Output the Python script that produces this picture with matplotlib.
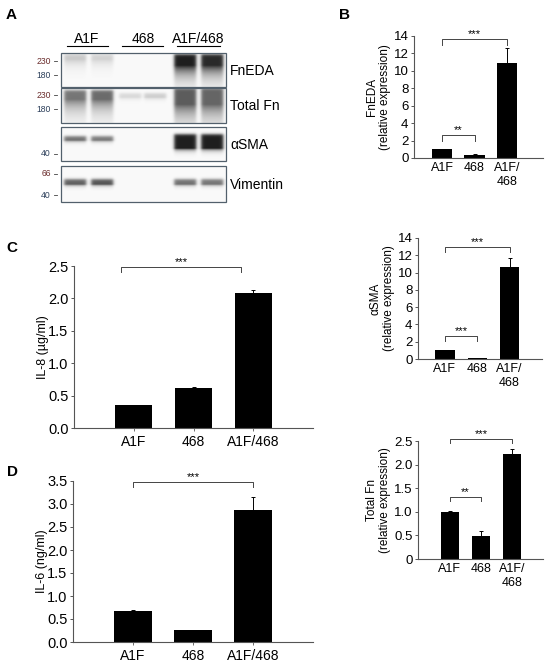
import numpy as np
import matplotlib.pyplot as plt
from matplotlib.patches import Rectangle

plt.rcParams['font.family'] = ['Liberation Sans', 'DejaVu Sans']

groups = ["A1F", "468", "A1F/468"]
groups_short = ["A1F", "468", "A1F/\n468"]

# bar data: means and upper error
fneda_mean = [1.0, 0.4, 10.9]
fneda_err = [0.03, 0.1, 1.7]
asma_mean = [1.0, 0.1, 10.7]
asma_err = [0.03, 0.03, 1.0]
totfn_mean = [1.0, 0.48, 2.22]
totfn_err = [0.02, 0.11, 0.11]
il8_mean = [0.35, 0.61, 2.09]
il8_err = [0.01, 0.02, 0.04]
il6_mean = [0.68, 0.26, 2.88]
il6_err = [0.01, 0.01, 0.27]

# blot band intensities per lane (A1F, A1F, 468, 468, A1F/468, A1F/468)
blot_names = ["FnEDA", "Total Fn", "\u03b1SMA", "Vimentin"]
fneda_band = [0.22, 0.18, 0.0, 0.0, 1.0, 0.95]
totfn_band = [0.6, 0.65, 0.15, 0.2, 0.72, 0.68]
asma_band = [0.62, 0.58, 0.0, 0.0, 1.0, 1.0]
vim_band = [0.7, 0.75, 0.0, 0.0, 0.62, 0.6]
mw_labels = [["230", "180"], ["230", "180"], ["40"], ["66", "40"]]

W, H = 550, 667
fig = plt.figure(figsize=(W / 100, H / 100), dpi=100)


def px_axes(x0, x1, ytop, ybot):
    return fig.add_axes([x0 / W, 1 - ybot / H, (x1 - x0) / W, (ybot - ytop) / H])


# ---------------- panel A: blot ----------------
axb = fig.add_axes([0, 0, 1, 1])
axb.set_xlim(0, W)
axb.set_ylim(H, 0)
axb.axis('off')

box_x0, box_x1 = 61, 226
box_tops = [53, 88, 127, 166]
box_bots = [87, 123, 161, 202]
lane_x = [75, 102, 130, 155, 185, 212]
# band shape per lane: (top, bottom, tail)
shapes = [
    [(54, 59, 6)] * 2 + [(54, 59, 6)] * 2 + [(54, 65, 9)] * 2,
    [(90, 99, 10)] * 2 + [(93, 97, 2)] * 2 + [(88, 104, 12)] * 2,
    [(136, 140, 1.5)] * 2 + [(136, 140, 1.5)] * 2 + [(134, 148, 2)] * 2,
    [(179, 184, 1.5)] * 6,
]
bands = [fneda_band, totfn_band, asma_band, vim_band]
mw_y = [[61, 75], [95, 109], [154], [174, 195]]


def sig(z):
    return 1 / (1 + np.exp(-z))


for k in range(4):
    yy = np.arange(box_tops[k], box_bots[k], 0.5)
    xx = np.arange(box_x0, box_x1, 0.5)
    X, Y = np.meshgrid(xx, yy)
    img = np.full(X.shape, 0.02)
    for i, lx in enumerate(lane_x):
        top, bot, tail = shapes[k][i]
        v = sig((Y - top) / 0.8) * np.where(Y <= bot, 1.0, np.exp(-(Y - bot) / tail))
        h = sig((11 - np.abs(X - lx)) / 0.9)
        img += bands[k][i] * 0.86 * v * h
    axb.imshow(img, cmap='gray_r', vmin=0, vmax=1, aspect='auto',
               extent=(box_x0, box_x1, box_bots[k], box_tops[k]), interpolation='bilinear')
    axb.add_patch(Rectangle((box_x0, box_tops[k]), box_x1 - box_x0, box_bots[k] - box_tops[k],
                            fill=False, edgecolor='#52606c', lw=0.9))
    axb.text(230, (box_tops[k] + box_bots[k]) / 2 + 1, blot_names[k], fontsize=10,
             va='center', ha='left')
    for lab, y in zip(mw_labels[k], mw_y[k]):
        col = '#6a2c2c' if lab in ("230", "66") else '#2c3f5a'
        axb.text(51, y, lab, fontsize=6.2, va='center', ha='right', color=col)
        axb.plot([54, 57], [y, y], color='#444444', lw=0.6)

group_x = [87, 143, 198]
under = [(67, 108), (122, 163), (177, 220)]
for g, gx, (u0, u1) in zip(groups, group_x, under):
    axb.text(gx, 39, g, fontsize=10, ha='center', va='center')
    axb.plot([u0, u1], [46, 46], color='black', lw=0.8)

# panel letters
for lab, x, y in [("A", 11, 15), ("B", 344, 15), ("C", 12, 248), ("D", 12, 472)]:
    axb.text(x, y, lab, fontsize=11, fontweight='bold', ha='center', va='center')


def bracket(ax, x1, x2, y, drop, stars, fs):
    ax.plot([x1, x1, x2, x2], [y - drop, y, y, y - drop], color='#444444', lw=0.7,
            clip_on=False)
    ax.text((x1 + x2) / 2, y, stars, ha='center', va='bottom', fontsize=fs, clip_on=False)


def style(ax, fs):
    for s in ['top', 'right']:
        ax.spines[s].set_visible(False)
    for s in ['left', 'bottom']:
        ax.spines[s].set_color('#555555')
        ax.spines[s].set_linewidth(0.8)
    ax.tick_params(axis='y', labelsize=fs, length=2.5, width=0.7, color='#555555', pad=1.5)


def bars(ax, mean, err, width):
    pos = np.arange(len(mean))
    ax.bar(pos, mean, width=width, color='black',
           yerr=[np.zeros(len(err)), err], capsize=1.6,
           error_kw=dict(ecolor='black', elinewidth=0.7, capthick=0.7))
    return pos


# ---------------- panel B: FnEDA ----------------
ax = px_axes(414, 543, 36, 158)
pos = bars(ax, fneda_mean, fneda_err, 0.62)
ax.set_xlim(-0.86, 3.1)
ax.set_ylim(0, 14)
ax.set_yticks(range(0, 15, 2))
ax.set_xticks(pos, groups_short, fontsize=9)
ax.tick_params(axis='x', length=0, pad=3)
style(ax, 9.5)
ax.set_ylabel("FnEDA\n(relative expression)", fontsize=8.5, labelpad=2, linespacing=1.1)
bracket(ax, 0, 2, 13.6, 0.6, "***", 8)
bracket(ax, 0, 1, 2.6, 0.6, "**", 8)

# ---------------- panel aSMA ----------------
ax = px_axes(418, 542, 238, 359)
pos = bars(ax, asma_mean, asma_err, 0.6)
ax.set_xlim(-0.83, 3.0)
ax.set_ylim(0, 14)
ax.set_yticks(range(0, 15, 2))
ax.set_xticks(pos, groups_short, fontsize=9)
ax.tick_params(axis='x', length=0, pad=3)
style(ax, 9.5)
ax.set_ylabel("\u03b1SMA\n(relative expression)", fontsize=8.5, labelpad=2, linespacing=1.1)
bracket(ax, 0, 2, 13.0, 0.6, "***", 8)
bracket(ax, 0, 1, 2.66, 0.6, "***", 8)

# ---------------- panel Total Fn ----------------
ax = px_axes(418, 543, 441, 559)
pos = bars(ax, totfn_mean, totfn_err, 0.6)
ax.set_xlim(-1.03, 3.0)
ax.set_ylim(0, 2.5)
ax.set_yticks([0, 0.5, 1.0, 1.5, 2.0, 2.5], ["0", "0.5", "1.0", "1.5", "2.0", "2.5"])
ax.set_xticks(pos, groups_short, fontsize=9)
ax.tick_params(axis='x', length=0, pad=3)
style(ax, 9.5)
ax.set_ylabel("Total Fn\n(relative expression)", fontsize=8.5, labelpad=2, linespacing=1.1)
bracket(ax, 0, 2, 2.55, 0.1, "***", 8)
bracket(ax, 0, 1, 1.32, 0.1, "**", 8)

# ---------------- panel C: IL-8 ----------------
ax = px_axes(74, 313, 266, 428)
pos = bars(ax, il8_mean, il8_err, 0.62)
ax.set_xlim(-1, 3)
ax.set_ylim(0, 2.5)
ax.set_yticks([0, 0.5, 1.0, 1.5, 2.0, 2.5], ["0.0", "0.5", "1.0", "1.5", "2.0", "2.5"])
ax.set_xticks(pos, groups, fontsize=10)
ax.tick_params(axis='x', length=2, width=0.6, color='#555555', pad=3)
style(ax, 10.5)
ax.set_ylabel("IL-8 (\u00b5g/ml)", fontsize=9, labelpad=-1)
bracket(ax, -0.22, 1.8, 2.49, 0.09, "***", 8)

# ---------------- panel D: IL-6 ----------------
ax = px_axes(73, 313, 481, 642)
pos = bars(ax, il6_mean, il6_err, 0.62)
ax.set_xlim(-1, 3)
ax.set_ylim(0, 3.5)
ax.set_yticks(np.arange(0, 3.6, 0.5), [f"{v:.1f}" for v in np.arange(0, 3.6, 0.5)])
ax.set_xticks(pos, groups, fontsize=10)
ax.tick_params(axis='x', length=2, width=0.6, color='#555555', pad=3)
style(ax, 10.5)
ax.set_ylabel("IL-6 (ng/ml)", fontsize=9, labelpad=-1)
bracket(ax, 0, 2, 3.48, 0.12, "***", 8)

fig.savefig("out.png", dpi=100)
